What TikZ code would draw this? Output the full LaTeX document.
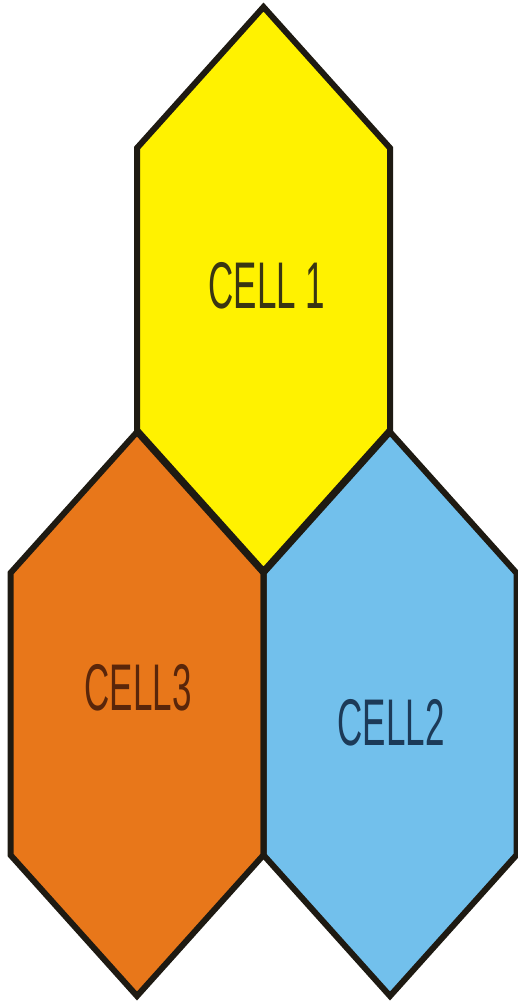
\documentclass[tikz,border=0pt]{standalone}
\usepackage{fontspec}
\setmainfont{Liberation Sans}
\definecolor{cellyellow}{HTML}{FFF200}
\definecolor{cellorange}{HTML}{E8771A}
\definecolor{cellblue}{HTML}{72C0EC}
\definecolor{edgedark}{HTML}{1E1A12}
\definecolor{txtyellow}{HTML}{3A3612}
\definecolor{txtorange}{HTML}{5A260A}
\definecolor{txtblue}{HTML}{1C3A58}
\tikzset{
  hexcell/.style={draw=edgedark, line width=6pt, line join=miter},
  celllabel/.style={font=\fontsize{66}{66}\selectfont, xscale=0.53, inner sep=0pt, anchor=center}
}
% hexagon with pointy top: centre (#1,#2), half width 126.5, half height 282
\newcommand{\hexpath}[2]{(#1,#2-282) -- (#1-126.5,#2-141) -- (#1-126.5,#2+141) -- (#1,#2+282) -- (#1+126.5,#2+141) -- (#1+126.5,#2-141) -- cycle}
\begin{document}
\begin{tikzpicture}[x=1pt,y=-1pt]
  \useasboundingbox (0,0) rectangle (518,1004);
  \fill[white] (0,0) rectangle (518,1004);
  % cell fills
  \fill[cellyellow] \hexpath{263.5}{289};
  \fill[cellorange] \hexpath{137}{714};
  \fill[cellblue]   \hexpath{390}{714};
  % outlines
  \draw[hexcell] \hexpath{263.5}{289};
  \draw[hexcell] \hexpath{137}{714};
  \draw[hexcell] \hexpath{390}{714};
  % labels
  \node[celllabel, text=txtyellow] (c1) at (267,286) {CELL 1};
  \node[celllabel, text=txtorange] (c3) at (138,688) {CELL3};
  \node[celllabel, text=txtblue]   (c2) at (391,723) {CELL2};
\end{tikzpicture}
\end{document}
